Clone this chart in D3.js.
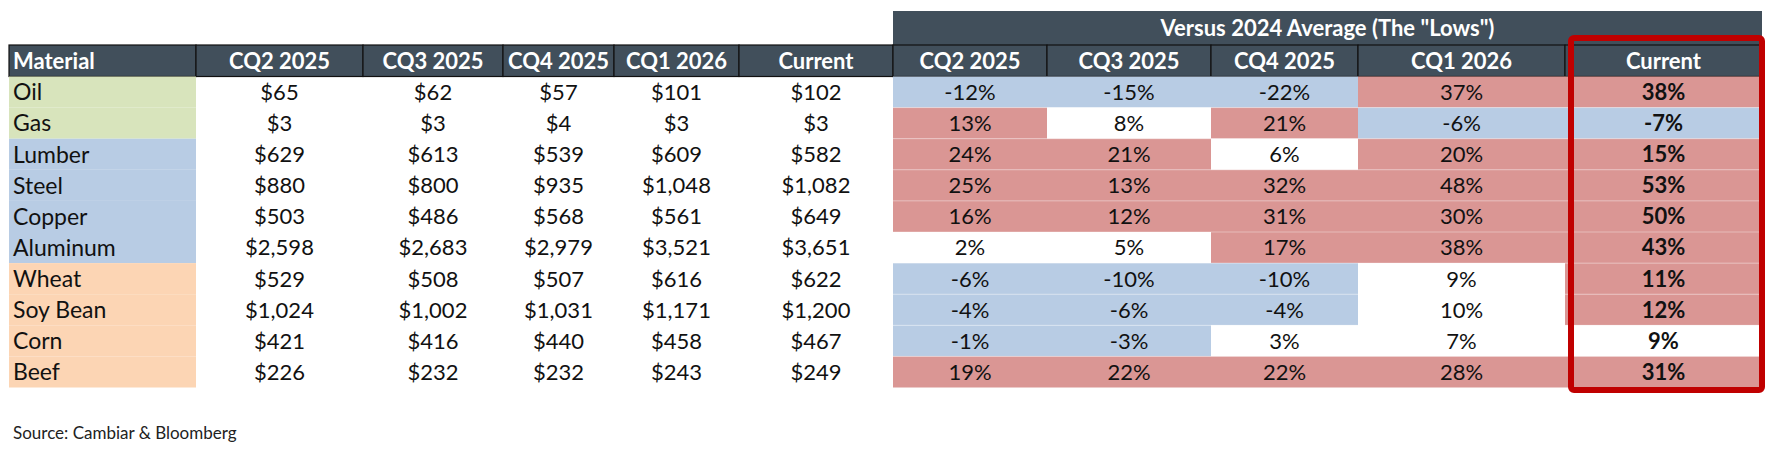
<!DOCTYPE html>
<html>
<head>
<meta charset="utf-8">
<script src="https://cdn.jsdelivr.net/npm/d3@7"></script>
<style>
  body { margin: 0; background: #fff; }
  text { font-family: Lato, "Open Sans", sans-serif; }
</style>
</head>
<body>
<div id="chart"></div>
<script>
// table data
const materials = ["Oil", "Gas", "Lumber", "Steel", "Copper", "Aluminum", "Wheat", "Soy Bean", "Corn", "Beef"]
const groups = ["energy", "energy", "metals", "metals", "metals", "metals", "ags", "ags", "ags", "ags"]
const periods = ["CQ2 2025", "CQ3 2025", "CQ4 2025", "CQ1 2026", "Current"]

const price_cq2_2025 = [65, 3, 629, 880, 503, 2598, 529, 1024, 421, 226]
const price_cq3_2025 = [62, 3, 613, 800, 486, 2683, 508, 1002, 416, 232]
const price_cq4_2025 = [57, 4, 539, 935, 568, 2979, 507, 1031, 440, 232]
const price_cq1_2026 = [101, 3, 609, 1048, 561, 3521, 616, 1171, 458, 243]
const price_current  = [102, 3, 582, 1082, 649, 3651, 622, 1200, 467, 249]

const vs_cq2_2025 = [-12, 13, 24, 25, 16, 2, -6, -4, -1, 19]
const vs_cq3_2025 = [-15, 8, 21, 13, 12, 5, -10, -6, -3, 22]
const vs_cq4_2025 = [-22, 21, 6, 32, 31, 17, -10, -4, 3, 22]
const vs_cq1_2026 = [37, -6, 20, 48, 30, 38, 9, 10, 7, 28]
const vs_current  = [38, -7, 15, 53, 50, 43, 11, 12, 9, 31]

const bandTitle = 'Versus 2024 Average (The "Lows")'
const source = "Source: Cambiar & Bloomberg"

// layout
let w_full = 1788
let h_full = 451
const colWidths = [187, 167, 140, 111, 125, 154, 154, 164, 147, 207, 197]
const tableLeft = 9
const headTop = 45, headBottom = 76.5, tableBottom = 387.5, bandTop = 11
const headerFill = '#414f5b'
const headSize = 22, bodySize = 22
const groupColor = d3.scaleOrdinal()
    .domain(["energy", "metals", "ags"])
    .range(['#d8e4bc', '#b8cce4', '#fcd5b4'])
const pctColor = d3.scaleThreshold()
    .domain([0, 10.5])
    .range(['#b8cce4', '#ffffff', '#da9694'])

const prices = [price_cq2_2025, price_cq3_2025, price_cq4_2025, price_cq1_2026, price_current]
const pcts = [vs_cq2_2025, vs_cq3_2025, vs_cq4_2025, vs_cq1_2026, vs_current]

const columns = ["Material"]
    .concat(periods.map(p => "price " + p))
    .concat(periods.map(p => "pct " + p))
const colLabels = ["Material"].concat(periods).concat(periods)

const edges = [tableLeft]
colWidths.forEach(cw => edges.push(edges[edges.length - 1] + cw))
const xLeft = d3.scaleOrdinal().domain(columns).range(edges.slice(0, -1))
const xWidth = d3.scaleOrdinal().domain(columns).range(colWidths)

const y = d3.scaleBand()
    .domain(materials)
    .range([headBottom, tableBottom])

const fmtPrice = d => "$" + d3.format(",")(d)

const svg = d3.select("#chart")
    .append("svg")
    .attr("width", w_full)
    .attr("height", h_full)

// band over the percentage block
const pctStart = xLeft("pct " + periods[0])
const tableRight = edges[edges.length - 1]
svg.append('rect')
    .attr('x', pctStart)
    .attr('y', bandTop)
    .attr('width', tableRight - pctStart)
    .attr('height', headTop - bandTop)
    .attr('fill', headerFill)
svg.append('text')
    .text(bandTitle)
    .attr('x', (pctStart + tableRight) / 2)
    .attr('y', (bandTop + headTop) / 2)
    .attr('dy', '.36em')
    .style('text-anchor', 'middle')
    .style('font-weight', 'bold')
    .attr('font-size', headSize)
    .attr('fill', '#fff')

// header row
const header = svg.append('g').attr('class', 'header')
header.selectAll('rect')
    .data(columns)
    .join('rect')
    .attr('x', d => xLeft(d))
    .attr('y', headTop)
    .attr('width', d => xWidth(d))
    .attr('height', headBottom - headTop)
    .attr('fill', headerFill)
    .attr('stroke', '#111')
    .attr('stroke-width', 1.2)
header.selectAll('text')
    .data(columns)
    .join('text')
    .text((d, i) => colLabels[i])
    .attr('x', d => d == "Material" ? xLeft(d) + 4 : xLeft(d) + xWidth(d) / 2)
    .attr('y', (headTop + headBottom) / 2)
    .attr('dy', '.36em')
    .style('text-anchor', d => d == "Material" ? 'start' : 'middle')
    .style('font-weight', 'bold')
    .attr('font-size', headSize)
    .attr('fill', '#fff')

// material column
const body = svg.append('g').attr('class', 'body')
body.selectAll('.mat-cell')
    .data(materials)
    .join('rect')
    .attr('class', 'mat-cell')
    .attr('x', xLeft("Material"))
    .attr('y', d => y(d))
    .attr('width', xWidth("Material"))
    .attr('height', y.bandwidth())
    .attr('fill', (d, i) => groupColor(groups[i]))
body.selectAll('.mat-label')
    .data(materials)
    .join('text')
    .attr('class', 'mat-label')
    .text(d => d)
    .attr('x', xLeft("Material") + 4)
    .attr('y', d => y(d) + y.bandwidth() / 2)
    .attr('dy', '.36em')
    .attr('font-size', bodySize + 1)
    .attr('fill', '#111')

// price columns
periods.forEach((p, j) => {
    const key = "price " + p
    body.selectAll('.price-' + j)
        .data(materials)
        .join('text')
        .attr('class', 'price-' + j)
        .text((d, i) => fmtPrice(prices[j][i]))
        .attr('x', xLeft(key) + xWidth(key) / 2)
        .attr('y', d => y(d) + y.bandwidth() / 2)
        .attr('dy', '.36em')
        .style('text-anchor', 'middle')
        .attr('font-size', bodySize)
        .attr('fill', '#111')
})

// percentage columns
periods.forEach((p, j) => {
    const key = "pct " + p
    const cells = body.selectAll('.pct-' + j)
        .data(materials)
        .join('g')
        .attr('class', 'pct-' + j)
    cells.append('rect')
        .attr('x', xLeft(key))
        .attr('y', d => y(d))
        .attr('width', xWidth(key))
        .attr('height', y.bandwidth())
        .attr('fill', (d, i) => pctColor(pcts[j][i]))
    cells.append('text')
        .text((d, i) => pcts[j][i] + "%")
        .attr('x', xLeft(key) + xWidth(key) / 2)
        .attr('y', d => y(d) + y.bandwidth() / 2)
        .attr('dy', '.36em')
        .style('text-anchor', 'middle')
        .style('font-weight', p == "Current" ? 'bold' : 'normal')
        .attr('font-size', bodySize)
        .attr('fill', '#111')
})

// faint row separators inside coloured cells
body.selectAll('.row-line')
    .data(materials.slice(1))
    .join('line')
    .attr('class', 'row-line')
    .attr('x1', pctStart)
    .attr('x2', tableRight)
    .attr('y1', d => y(d))
    .attr('y2', d => y(d))
    .attr('stroke', '#fff')
    .attr('stroke-opacity', 0.35)
    .attr('stroke-width', 1)

// highlight box around current column
const curKey = "pct Current"
svg.append('rect')
    .attr('x', xLeft(curKey) + 6)
    .attr('y', 38)
    .attr('width', xWidth(curKey) - 6)
    .attr('height', 352)
    .attr('rx', 3)
    .attr('fill', 'none')
    .attr('stroke', '#c00000')
    .attr('stroke-width', 6)

svg.append('text')
    .text(source)
    .attr('x', 13)
    .attr('y', 433)
    .attr('dy', '.36em')
    .attr('font-size', 17)
    .attr('fill', '#222')
</script>
</body>
</html>
